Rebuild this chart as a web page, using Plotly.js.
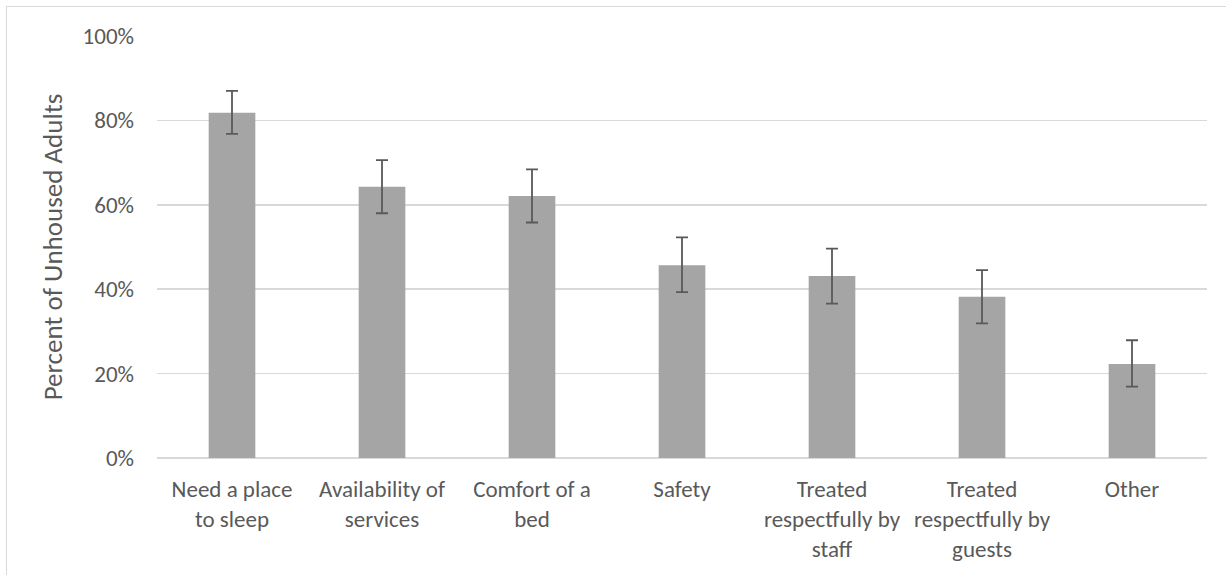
<!DOCTYPE html>
<html>
<head>
<meta charset="utf-8">
<script src="https://cdn.plot.ly/plotly-3.0.1.min.js"></script>
<style>
  html, body { margin: 0; padding: 0; background: #ffffff; }
  #chart { position: absolute; left: 0; top: 0; width: 1226px; height: 575px; }
  #frame { position: absolute; left: 6px; top: 6px; width: 1300px; height: 700px;
           border-left: 1.5px solid #d9d9d9; border-top: 1.5px solid #d9d9d9; pointer-events: none; }
</style>
</head>
<body>
<div id="chart"></div>
<div id="frame"></div>
<script>
const categories = [
  "Need a place<br>to sleep",
  "Availability of<br>services",
  "Comfort of a<br>bed",
  "Safety",
  "Treated<br>respectfully by<br>staff",
  "Treated<br>respectfully by<br>guests",
  "Other"
];
const percentValues = [81.8, 64.3, 62.1, 45.7, 43.1, 38.2, 22.3];
const errorPlus  = [5.2, 6.3, 6.3, 6.6, 6.5, 6.3, 5.6];
const errorMinus = [5.0, 6.3, 6.3, 6.4, 6.5, 6.3, 5.4];
const yTickValues = [0, 20, 40, 60, 80, 100];
const yTickLabels = ["0%", "20%", "40%", "60%", "80%", "100%"];

const FONT = "Carlito, Calibri, Lato, sans-serif";
const TEXT = "#595959";

const trace = {
  type: "bar",
  x: categories,
  y: percentValues,
  marker: { color: "#a5a5a5" },
  error_y: {
    type: "data",
    symmetric: false,
    array: errorPlus,
    arrayminus: errorMinus,
    color: "#595959",
    thickness: 1.8,
    width: 6
  },
  hoverinfo: "none"
};

const layout = {
  width: 1226,
  height: 575,
  margin: { l: 157, r: 19, t: 36, b: 117 },
  paper_bgcolor: "rgba(0,0,0,0)",
  plot_bgcolor: "rgba(0,0,0,0)",
  bargap: 0.689,
  showlegend: false,
  font: { family: FONT, color: TEXT, size: 23 },
  xaxis: {
    type: "category",
    tickfont: { family: FONT, color: TEXT, size: 23 },
    showgrid: false,
    showline: false,
    zeroline: false,
    ticks: "",
    ticklabelstandoff: 15,
    automargin: false
  },
  yaxis: {
    range: [0, 100],
    tickvals: yTickValues,
    ticktext: yTickLabels,
    tickfont: { family: FONT, color: TEXT, size: 23 },
    showgrid: true,
    gridcolor: "#d9d9d9",
    gridwidth: 1.5,
    zeroline: true,
    zerolinecolor: "#d9d9d9",
    zerolinewidth: 1.5,
    showline: false,
    ticks: "",
    ticklabelstandoff: 22,
    automargin: false,
    title: {
      text: "Percent of Unhoused Adults",
      font: { family: FONT, color: TEXT, size: 27 },
      standoff: 12
    }
  }
};

Plotly.newPlot("chart", [trace], layout, { staticPlot: true, displayModeBar: false });
</script>
</body>
</html>
